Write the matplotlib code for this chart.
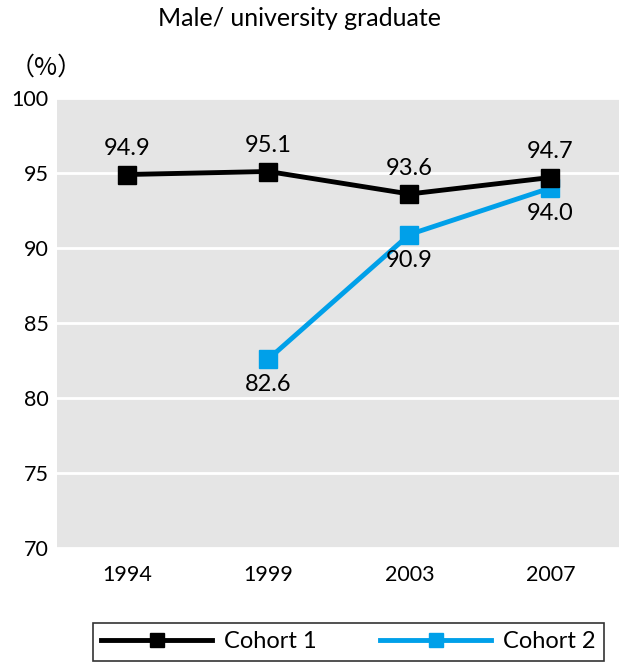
import matplotlib
matplotlib.use("Agg")
import matplotlib.pyplot as plt

years = ["1994", "1999", "2003", "2007"]
cohort1 = [94.9, 95.1, 93.6, 94.7]
cohort2_years = ["1999", "2003", "2007"]
cohort2 = [82.6, 90.9, 94.0]

blue = "#00a0e9"
gray_bg = "#e5e5e5"

plt.rcParams["font.family"] = ["Lato", "DejaVu Sans"]

W, H = 619, 663
fig = plt.figure(figsize=(W / 100, H / 100), dpi=100)
ax = fig.add_axes([57 / W, 1 - 548 / H, 1 - 57 / W + 0.003, (548 - 98) / H])
ax.set_facecolor(gray_bg)

x1 = [years.index(y) for y in years]
x2 = [years.index(y) for y in cohort2_years]

ax.plot(x1, cohort1, color="black", lw=3.5, marker="s", ms=13,
        label="Cohort 1", zorder=4)
ax.plot(x2, cohort2, color=blue, lw=3.5, marker="s", ms=13,
        label="Cohort 2", zorder=3)

for x, v in zip(x1, cohort1):
    ax.annotate(f"{v:.1f}", (x, v), xytext=(0, 11), textcoords="offset points",
                ha="center", va="bottom", fontsize=17)
for x, v in zip(x2, cohort2):
    ax.annotate(f"{v:.1f}", (x, v), xytext=(0, -11), textcoords="offset points",
                ha="center", va="top", fontsize=17)

ax.set_xlim(-0.5, 3.5)
ax.set_ylim(70, 100)
ax.set_yticks(range(70, 101, 5))
ax.set_xticks(range(len(years)))
ax.set_xticklabels(years)
ax.tick_params(length=0, labelsize=15.5)
ax.tick_params(axis="x", pad=12)
ax.tick_params(axis="y", pad=6)
ax.grid(axis="y", color="white", lw=2)
ax.set_axisbelow(True)
for s in ax.spines.values():
    s.set_visible(False)

fig.text(300 / W, 1 - 19 / H, "Male/ university graduate", ha="center",
         va="center", fontsize=18)
fig.text(46 / W, 1 - 68 / H, "（%）", ha="center", va="center", fontsize=18,
         family="Noto Sans CJK JP")

leg = fig.legend(loc="upper left", bbox_to_anchor=(93 / W, 1 - 623 / H),
                 ncol=2, fontsize=17, handlelength=4.7, handletextpad=0.5,
                 columnspacing=2.7, markerscale=0.8, fancybox=False,
                 borderpad=0.35, borderaxespad=0)
leg.get_frame().set_edgecolor("black")
leg.get_frame().set_linewidth(1.2)

fig.savefig("out.png", dpi=100)
